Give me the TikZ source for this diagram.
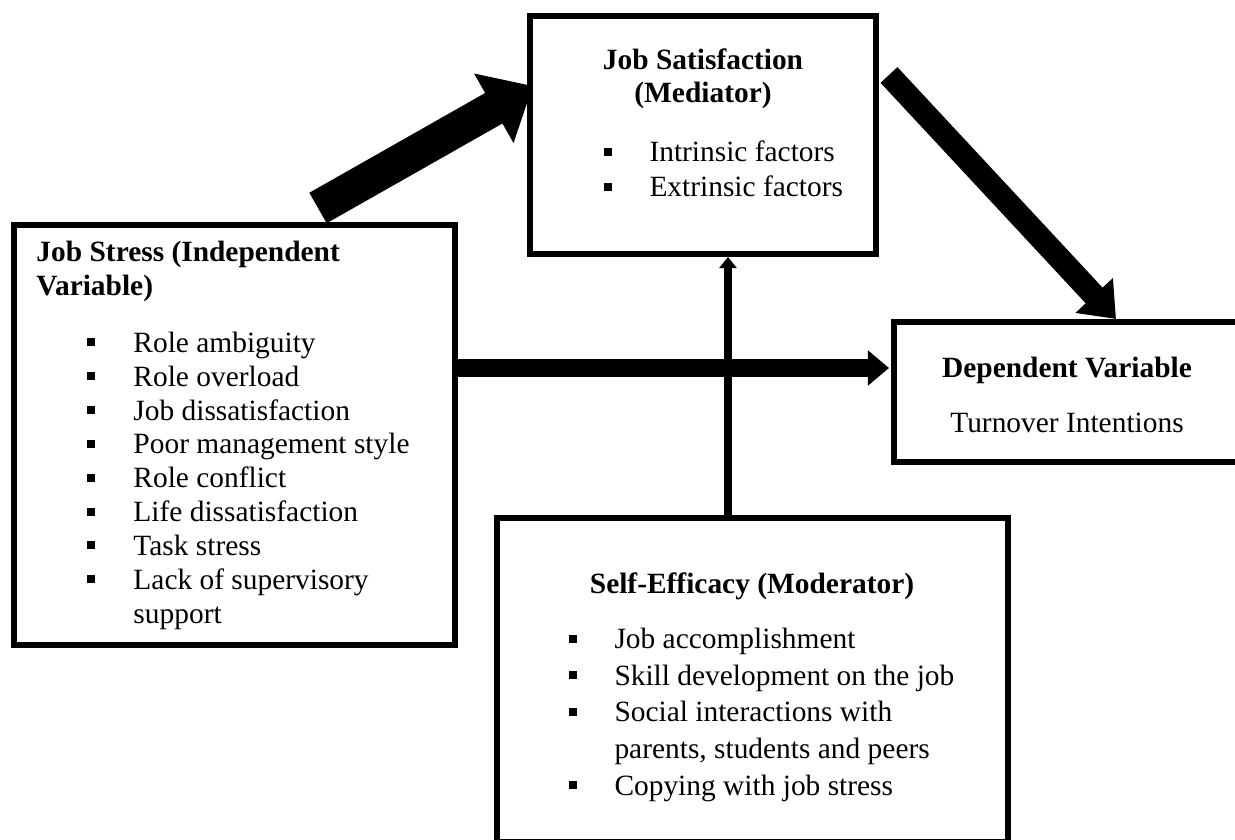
\documentclass[tikz,border=0pt]{standalone}
\usepackage{fontspec}
\setmainfont{Liberation Serif}
\usepackage{tikz}
\usetikzlibrary{arrows.meta,positioning,calc}
\newlength\px
\setlength\px{0.408pt}
\newcommand\sq{\makebox[46\px][l]{\rule[6\px]{8\px}{8\px}}}
\tikzset{
  box/.style={rectangle, draw=black, line width=2.3pt, outer sep=0pt, inner sep=0pt},
  hdr/.style={font=\fontsize{12pt}{13.8pt}\selectfont\bfseries, align=center, inner sep=0pt},
  lst/.style={font=\fontsize{12pt}{13.8pt}\selectfont, align=left, inner sep=0pt},
  fatflow/.style={-{Triangle[length=18.4pt, width=31.4pt]}, line width=14.3pt},
  slantflow/.style={-{Triangle[length=13.1pt, width=20pt]}, line width=9.4pt},
  mainflow/.style={-{Triangle[length=8.6pt, width=13.9pt]}, line width=7.3pt},
  modflow/.style={-{Triangle[length=4.5pt, width=6.9pt]}, line width=3.3pt}
}
\begin{document}
\begin{tikzpicture}[x=\px, y=-\px]
 \useasboundingbox (0,0) rectangle (1235,840);
 % boxes
 \node[box, minimum width=441\px, minimum height=420\px] (js) at (234.5,435) {};
 \node[box, minimum width=346\px, minimum height=238\px] (jsat) at (703,135) {};
 \node[box, minimum width=346\px, minimum height=140\px] (dv) at (1067,392) {};
 \node[box, minimum width=511\px, minimum height=324\px] (se) at (752.5,680) {};
 % texts (base = last line)
 \node[lst, anchor=base west] (jstxt) at (36,623) {\textbf{Job Stress (Independent}\\\textbf{Variable)}\\[9.5pt]
  \hspace*{51\px}\sq Role ambiguity\\
  \hspace*{51\px}\sq Role overload\\
  \hspace*{51\px}\sq Job dissatisfaction\\
  \hspace*{51\px}\sq Poor management style\\
  \hspace*{51\px}\sq Role conflict\\
  \hspace*{51\px}\sq Life dissatisfaction\\
  \hspace*{51\px}\sq Task stress\\
  \hspace*{51\px}\sq Lack of supervisory\\
  \hspace*{97\px}support};
 \node[hdr, anchor=base] (jsattitle) at (703,103) {Job Satisfaction\\(Mediator)};
 \node[lst, font=\fontsize{12pt}{14.3pt}\selectfont, anchor=base west] (jsatlist) at (603,197) {\sq Intrinsic factors\\\sq Extrinsic factors};
 \node[lst, align=center, anchor=base] (dvtxt) at (1067,433) {\textbf{Dependent Variable}\\[9pt]Turnover Intentions};
 \node[hdr, anchor=base] (setitle) at (752,593) {Self-Efficacy (Moderator)};
 \node[lst, font=\fontsize{12pt}{14.9pt}\selectfont, anchor=base west] (selist) at (568,795) {\sq Job accomplishment\\
  \sq Skill development on the job\\
  \sq Social interactions with\\
  \hspace*{46\px}parents, students and peers\\
  \sq Copying with job stress};
 % arrows
 \draw[fatflow] ($(js.north west)+(304,-17)$) -- ($(jsat.north west)+(3,70)$);
 \draw[slantflow] ($(jsat.north east)+(13,59)$) -- ($(dv.north west)+(222,-3)$);
 \draw[modflow] ($(se.north west)+(231,0)$) -- ($(jsat.south west)+(198,3)$);
 \draw[mainflow] ($(js.north east)+(0,143)$) -- ($(dv.north west)+(-5,46)$);
\end{tikzpicture}
\end{document}
